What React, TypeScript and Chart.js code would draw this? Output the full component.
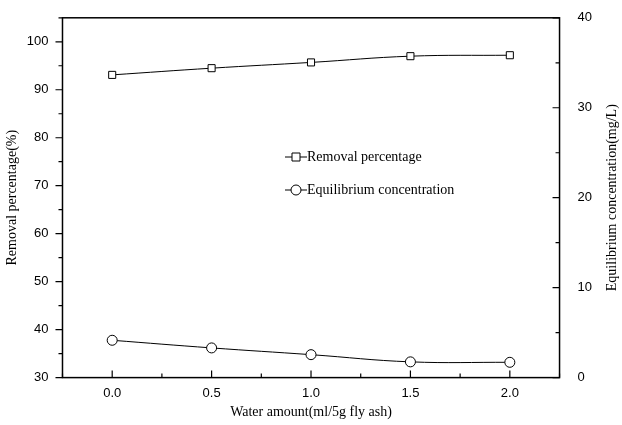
import React, { useEffect, useRef } from "react";
import { Chart, registerables } from "chart.js";
Chart.register(...registerables);

const waterAmount = [0, 0.5, 1.0, 1.5, 2.0];
const removalPct = [93.1, 94.5, 95.7, 97.0, 97.2];
const eqConc = [4.15, 3.3, 2.55, 1.75, 1.7];

const tickFont = { family: "Liberation Sans, Arial", size: 13 };
const titleFont = { family: "Liberation Serif, Times New Roman", size: 14 };

const frame = {
  id: "frame",
  afterDraw(chart: any) {
    const ctx = chart.ctx;
    const a = chart.chartArea;
    const sx = chart.scales.x, sy = chart.scales.y, sy2 = chart.scales.y2;
    ctx.save();
    ctx.strokeStyle = "#000";
    ctx.lineWidth = 1.5;
    ctx.strokeRect(a.left, a.top, a.right - a.left, a.bottom - a.top);
    ctx.lineWidth = 1.2;
    ctx.beginPath();
    for (let v = 30; v <= 105; v += 5) {
      const y = sy.getPixelForValue(v);
      const L = v % 10 === 0 ? 7 : 4;
      ctx.moveTo(a.left - L, y); ctx.lineTo(a.left, y);
    }
    for (let v = 0; v <= 40; v += 5) {
      const y = sy2.getPixelForValue(v);
      const L = v % 10 === 0 ? 7 : 4;
      ctx.moveTo(a.right - L, y); ctx.lineTo(a.right, y);
    }
    for (let v = -0.25; v <= 2.25; v += 0.25) {
      const x = sx.getPixelForValue(v);
      const major = Math.abs((v / 0.5) - Math.round(v / 0.5)) < 1e-6;
      const L = major ? 7 : 4;
      ctx.moveTo(x, a.bottom); ctx.lineTo(x, a.bottom - L);
    }
    ctx.stroke();
    ctx.save();
    ctx.font = "14px 'Liberation Serif'";
    ctx.fillStyle = "#000";
    ctx.textAlign = "center";
    ctx.textBaseline = "middle";
    ctx.translate(612, (a.top + a.bottom) / 2);
    ctx.rotate(-Math.PI / 2);
    ctx.fillText("Equilibrium concentration(mg/L)", 0, 0);
    ctx.restore();
    const lx = 285, items = [["Removal percentage", 157, "rect"], ["Equilibrium concentration", 190, "circle"]];
    ctx.font = "14px 'Liberation Serif'";
    ctx.textBaseline = "middle";
    ctx.fillStyle = "#000";
    for (const [t, y, s] of items as any) {
      ctx.lineWidth = 1;
      ctx.beginPath(); ctx.moveTo(lx, y); ctx.lineTo(lx + 22, y); ctx.stroke();
      ctx.fillStyle = "#fff";
      ctx.beginPath();
      if (s === "rect") ctx.rect(lx + 7, y - 4, 8, 8); else ctx.arc(lx + 11, y, 5, 0, Math.PI * 2);
      ctx.fill(); ctx.stroke();
      ctx.fillStyle = "#000";
      ctx.fillText(t, lx + 22, y);
    }
    ctx.restore();
  },
};

export default function App() {
  const ref = useRef<HTMLCanvasElement>(null);
  useEffect(() => {
    const chart = new Chart(ref.current!, {
      type: "line",
      data: {
        datasets: [
          {
            label: "Removal percentage",
            data: waterAmount.map((x, i) => ({ x, y: removalPct[i] })),
            yAxisID: "y", borderColor: "#000", borderWidth: 1, pointStyle: "rect",
            pointRadius: 5, pointBackgroundColor: "#fff", pointBorderColor: "#000", pointBorderWidth: 1, tension: 0.4,
          },
          {
            label: "Equilibrium concentration",
            data: waterAmount.map((x, i) => ({ x, y: eqConc[i] })),
            yAxisID: "y2", borderColor: "#000", borderWidth: 1, pointStyle: "circle",
            pointRadius: 5, pointBackgroundColor: "#fff", pointBorderColor: "#000", pointBorderWidth: 1, tension: 0.4,
          },
        ],
      },
      options: {
        animation: false, responsive: false, maintainAspectRatio: false,
        layout: { padding: { top: 15, right: 20, left: 4, bottom: 4 } },
        plugins: { legend: { display: false }, tooltip: { enabled: false } },
        scales: {
          x: {
            type: "linear", min: -0.25, max: 2.25,
            afterBuildTicks: (s: any) => { s.ticks = waterAmount.map((v) => ({ value: v })); },
            ticks: { font: tickFont, color: "#000", padding: 0, callback: (v: any) => Number(v).toFixed(1) },
            grid: { display: false }, border: { display: false },
            title: { display: true, text: "Water amount(ml/5g fly ash)", font: titleFont, color: "#000", padding: { top: 3, bottom: 0 } },
          },
          y: {
            position: "left", min: 30, max: 105,
            afterBuildTicks: (s: any) => { s.ticks = [30, 40, 50, 60, 70, 80, 90, 100].map((v) => ({ value: v })); },
            ticks: { font: tickFont, color: "#000", padding: 6 },
            grid: { display: false }, border: { display: false },
            title: { display: true, text: "Removal percentage(%)", font: titleFont, color: "#000", padding: 0 },
          },
          y2: {
            position: "right", min: 0, max: 40,
            afterBuildTicks: (s: any) => { s.ticks = [0, 10, 20, 30, 40].map((v) => ({ value: v })); },
            ticks: { font: tickFont, color: "#000", padding: 10 },
            grid: { display: false }, border: { display: false },
          },
        },
      },
      plugins: [frame],
    } as any);
    return () => chart.destroy();
  }, []);
  return (
    <div style={{ position: "fixed", left: 0, top: 0, width: 622, height: 425, background: "#fff" }}>
      <canvas ref={ref} width={622} height={425} style={{ display: "block" }} />
    </div>
  );
}
